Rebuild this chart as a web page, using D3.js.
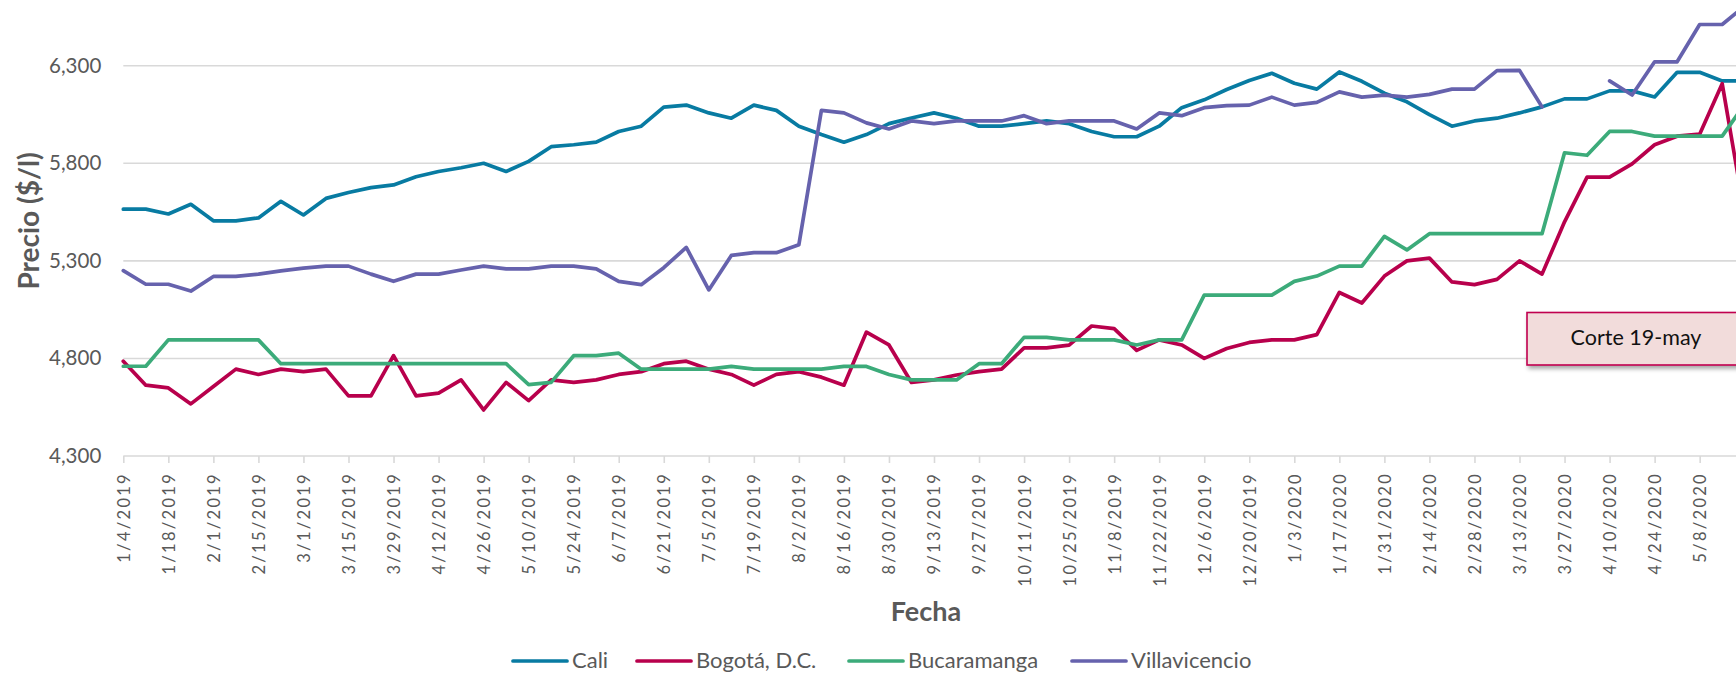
<!DOCTYPE html>
<html>
<head>
<meta charset="utf-8">
<script src="https://cdn.jsdelivr.net/npm/d3@7"></script>
<style>
  html, body { margin: 0; padding: 0; background: #fff; }
  svg { display: block; }
</style>
</head>
<body>
<svg id="chart" width="1736" height="675"></svg>
<script>
// Weekly price series (COP per litre), Friday readings
const dates = [
  "1/4/2019","1/11/2019","1/18/2019","1/25/2019","2/1/2019","2/8/2019","2/15/2019","2/22/2019",
  "3/1/2019","3/8/2019","3/15/2019","3/22/2019","3/29/2019","4/5/2019","4/12/2019","4/19/2019",
  "4/26/2019","5/3/2019","5/10/2019","5/17/2019","5/24/2019","5/31/2019","6/7/2019","6/14/2019",
  "6/21/2019","6/28/2019","7/5/2019","7/12/2019","7/19/2019","7/26/2019","8/2/2019","8/9/2019",
  "8/16/2019","8/23/2019","8/30/2019","9/6/2019","9/13/2019","9/20/2019","9/27/2019","10/4/2019",
  "10/11/2019","10/18/2019","10/25/2019","11/1/2019","11/8/2019","11/15/2019","11/22/2019","11/29/2019",
  "12/6/2019","12/13/2019","12/20/2019","12/27/2019",
  "1/3/2020","1/10/2020","1/17/2020","1/24/2020","1/31/2020","2/7/2020","2/14/2020","2/21/2020",
  "2/28/2020","3/6/2020","3/13/2020","3/20/2020","3/27/2020","4/3/2020","4/10/2020","4/17/2020",
  "4/24/2020","5/1/2020","5/8/2020","5/15/2020","5/22/2020"
];

const tickLabels = [
  "1/4/2019","1/18/2019","2/1/2019","2/15/2019","3/1/2019","3/15/2019","3/29/2019","4/12/2019",
  "4/26/2019","5/10/2019","5/24/2019","6/7/2019","6/21/2019","7/5/2019","7/19/2019","8/2/2019",
  "8/16/2019","8/30/2019","9/13/2019","9/27/2019","10/11/2019","10/25/2019","11/8/2019","11/22/2019",
  "12/6/2019","12/20/2019","1/3/2020","1/17/2020","1/31/2020","2/14/2020","2/28/2020","3/13/2020",
  "3/27/2020","4/10/2020","4/24/2020","5/8/2020"
];

const yTicks = [4300, 4800, 5300, 5800, 6300];

const cali = [
  5565,5565,5540,5590,5505,5505,5520,5605,5535,5620,
  5650,5675,5689,5731,5758,5777,5800,5758,5810,5885,
  5895,5908,5963,5990,6088,6098,6058,6031,6098,6071,
  5990,5947,5908,5947,6003,6032,6058,6031,5990,5990,
  6003,6017,6003,5963,5936,5936,5990,6085,6125,6178,
  6224,6261,6210,6180,6268,6220,6159,6115,6049,5990,
  6017,6031,6058,6089,6130,6130,6171,6171,6140,6266,
  6266,6222,6222
];

const bogota = [
  4786,4663,4649,4567,4656,4745,4718,4745,4732,4745,
  4608,4608,4814,4608,4622,4690,4536,4677,4584,4690,
  4677,4690,4718,4732,4773,4786,4745,4718,4663,4718,
  4732,4704,4663,4935,4869,4677,4690,4715,4732,4745,
  4854,4854,4868,4966,4953,4841,4895,4869,4800,4851,
  4882,4895,4895,4922,5138,5084,5222,5300,5314,5192,
  5178,5205,5300,5232,5500,5729,5729,5797,5895,5939,
  5949,6208,5536
];

const bucaramanga = [
  4760,4760,4895,4895,4895,4895,4895,4773,4773,4773,
  4773,4773,4773,4773,4773,4773,4773,4773,4666,4677,
  4814,4814,4827,4745,4745,4745,4745,4759,4745,4745,
  4745,4745,4759,4759,4718,4690,4690,4690,4773,4773,
  4908,4908,4895,4895,4895,4869,4895,4895,5124,5124,
  5124,5124,5195,5222,5273,5273,5425,5356,5439,5439,
  5439,5439,5439,5439,5854,5841,5963,5963,5939,5939,
  5939,5939,6103
];

const villavicencio = [
  5250,5180,5180,5145,5220,5220,5232,5249,5263,5273,
  5273,5232,5195,5232,5232,5253,5273,5259,5259,5273,
  5273,5259,5195,5178,5265,5369,5151,5328,5342,5342,
  5383,6071,6058,6007,5976,6017,6003,6017,6017,6017,
  6044,6003,6017,6017,6017,5976,6058,6044,6085,6095,
  6098,6139,6098,6112,6166,6139,6149,6139,6153,6180,
  6180,6275,6276,6089,null,null,6222,6150,6320,6320,
  6511,6511,6606
];

const seriesNames = ["Cali", "Bogotá, D.C.", "Bucaramanga", "Villavicencio"];
const seriesColors = ["#087ba2", "#b8004c", "#3cab7a", "#6662ad"];
const seriesValues = [cali, bogota, bucaramanga, villavicencio];

const xTitle = "Fecha";
const yTitle = "Precio ($/l)";
const noteText = "Corte 19-may";

// ---- layout ----
const svg = d3.select("#chart");
const plotLeft = 123.3, plotBottom = 456, plotRight = 1744.7;

const x = d3.scalePoint().domain(dates).range([plotLeft, plotRight]);
const y = d3.scaleLinear().domain([4300, 6300]).range([plotBottom, 65.7]);

const defs = svg.append("defs");
const shadow = defs.append("filter").attr("id", "boxShadow")
  .attr("x", "-10%").attr("y", "-30%").attr("width", "130%").attr("height", "170%");
shadow.append("feDropShadow").attr("dx", 2).attr("dy", 3).attr("stdDeviation", 2.2)
  .attr("flood-color", "#000").attr("flood-opacity", 0.35);

// horizontal gridlines
svg.append("g")
  .selectAll("line")
  .data(yTicks.filter(t => t !== 4300))
  .join("line")
  .attr("x1", plotLeft).attr("x2", 1736)
  .attr("y1", d => y(d)).attr("y2", d => y(d))
  .attr("stroke", "#d9d9d9").attr("stroke-width", 1.6);

// y axis (labels only)
const yAxis = svg.append("g")
  .attr("transform", `translate(${plotLeft},0)`)
  .call(d3.axisLeft(y).tickValues(yTicks).tickFormat(d3.format(",")).tickSize(0).tickPadding(22));
yAxis.select(".domain").remove();
yAxis.selectAll("text")
  .attr("fill", "#595959")
  .style("font-family", "Lato, 'Open Sans', sans-serif")
  .style("font-size", "20.5px");

// x axis
const xAxis = svg.append("g")
  .attr("transform", `translate(0,${plotBottom})`)
  .call(d3.axisBottom(x).tickValues(tickLabels).tickSize(7).tickSizeOuter(0));
xAxis.select(".domain")
  .attr("stroke", "#d9d9d9").attr("stroke-width", 1.6)
  .attr("d", `M${plotLeft},0H${plotRight}`);
xAxis.selectAll(".tick line").attr("stroke", "#d9d9d9").attr("stroke-width", 1.6);
xAxis.selectAll(".tick text")
  .attr("fill", "#595959")
  .attr("text-anchor", "end")
  .attr("transform", "translate(0,16) rotate(-90)")
  .attr("x", 0).attr("y", 0).attr("dy", "0.36em")
  .style("font-family", "Lato, 'Open Sans', sans-serif")
  .style("font-size", "16.5px")
  .style("letter-spacing", "2.3px");

// series lines
const line = d3.line()
  .defined(d => d.v != null)
  .x(d => x(d.date))
  .y(d => y(d.v));

svg.append("g")
  .selectAll("path")
  .data(seriesValues.map((vals, k) => ({ k, pts: vals.map((v, i) => ({ date: dates[i], v })) })))
  .join("path")
  .attr("d", d => line(d.pts))
  .attr("fill", "none")
  .attr("stroke", d => seriesColors[d.k])
  .attr("stroke-width", 3.7)
  .attr("stroke-linejoin", "round")
  .attr("stroke-linecap", "round");

// axis titles
svg.append("text")
  .attr("transform", "translate(29,221) rotate(-90)")
  .attr("text-anchor", "middle")
  .attr("dy", "0.35em")
  .attr("fill", "#595959")
  .style("font-family", "Lato, 'Open Sans', sans-serif")
  .style("font-weight", "bold")
  .style("font-size", "28px")
  .text(yTitle);

svg.append("text")
  .attr("x", 926).attr("y", 621)
  .attr("text-anchor", "middle")
  .attr("fill", "#595959")
  .style("font-family", "Lato, 'Open Sans', sans-serif")
  .style("font-weight", "bold")
  .style("font-size", "27px")
  .text(xTitle);

// legend
const legendTextX = [572, 696, 908, 1131];
const legend = svg.append("g")
  .selectAll("g")
  .data(seriesNames)
  .join("g")
  .attr("transform", (d, i) => `translate(${legendTextX[i]},661)`);
legend.append("line")
  .attr("x1", -59).attr("x2", -5).attr("y1", 0).attr("y2", 0)
  .attr("stroke", (d, i) => seriesColors[i])
  .attr("stroke-width", 3.7)
  .attr("stroke-linecap", "round");
legend.append("text")
  .attr("x", 0).attr("y", 0).attr("dy", "0.34em")
  .attr("fill", "#595959")
  .style("font-family", "Lato, 'Open Sans', sans-serif")
  .style("font-size", "22px")
  .text(d => d);

// cut-off note
const note = svg.append("g");
note.append("rect")
  .attr("x", 1527).attr("y", 312.5).attr("width", 230).attr("height", 52.5)
  .attr("fill", "#f2dcdb").attr("stroke", "#c0004f").attr("stroke-width", 1.6)
  .attr("filter", "url(#boxShadow)");
note.append("text")
  .attr("x", 1636).attr("y", 345)
  .attr("text-anchor", "middle")
  .attr("fill", "#111")
  .style("font-family", "Lato, 'Open Sans', sans-serif")
  .style("font-size", "21.5px")
  .text(noteText);
</script>
</body>
</html>
